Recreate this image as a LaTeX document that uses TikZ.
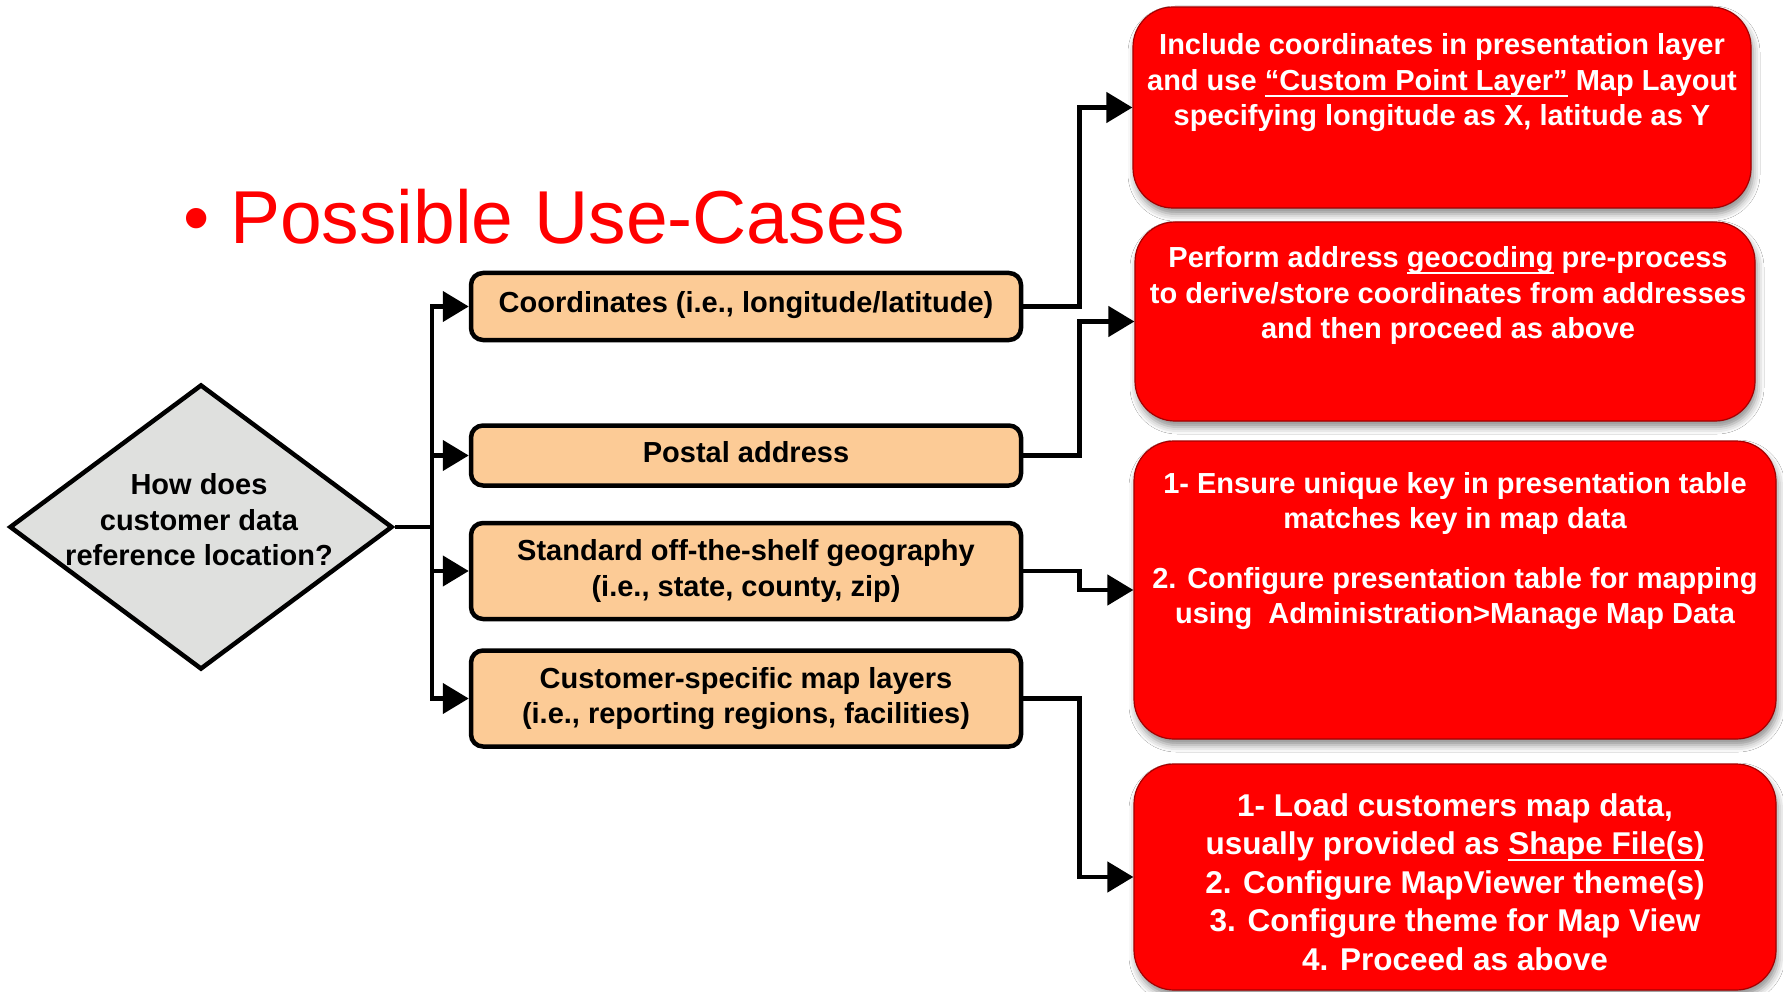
\documentclass[tikz,border=0pt]{standalone}
\usepackage{fontspec}
\setmainfont{Liberation Sans}
\usetikzlibrary{arrows.meta,shapes.geometric,shadows.blur}

% thick underline for emphasised terms
\newcommand{\ulined}[1]{\leavevmode\setbox0\hbox{#1}\rlap{\rule[-6.5pt]{\wd0}{2.4pt}}\box0\relax}

\definecolor{peach}{RGB}{252,203,150}
\definecolor{alertred}{RGB}{255,0,0}
\definecolor{alertedge}{RGB}{165,0,0}
\definecolor{qgrey}{RGB}{223,224,222}

\tikzset{
  choice/.style={draw=black, line width=4.5pt, fill=peach, rounded corners=12pt,
    inner sep=0pt, minimum width=550pt, align=center,
    font=\bfseries\fontsize{29}{35.5}\selectfont},
  action/.style={draw=alertedge, line width=1.2pt, fill=alertred, rounded corners=40pt,
    inner sep=0pt,
    blur shadow={shadow xshift=2pt, shadow yshift=-6pt, shadow blur radius=7pt, shadow opacity=45}},
  decision/.style={diamond, draw=black, line width=4.5pt, fill=qgrey, inner sep=0pt},
  lbl/.style={font=\bfseries\fontsize{29}{35.5}\selectfont, align=center, inner sep=0pt},
  wlbl/.style={lbl, text=white},
  link/.style={line width=4.5pt},
  arr/.style={link, -{Triangle[length=26pt,width=30pt]}}
}

\begin{document}
\begin{tikzpicture}[x=1pt, y=-1pt]
\useasboundingbox (0,0) rectangle (1783,992);
\fill[white] (0,0) rectangle (1783,992);

% heading
\node[anchor=base west, inner sep=0pt, text=alertred,
      font=\fontsize{75}{80}\selectfont] (ttl) at (183,244) {• Possible Use-Cases};

% question
\node[decision, minimum width=383pt, minimum height=285pt] (q) at (201,527) {};
\node[lbl] (qt) at (199,520) {How does\\customer data\\reference location?};

% kinds of location data
\node[choice, minimum height=67pt, text depth=9pt] (o1) at (746,306.5) {Coordinates (i.e., longitude/latitude)};
\node[choice, minimum height=60pt, text depth=8pt] (o2) at (746,455.5) {Postal address};
\node[choice, minimum height=96pt] (o3) at (746,571) {Standard off-the-shelf geography\\(i.e., state, county, zip)};
\node[choice, minimum height=96pt] (o4) at (746,698.5) {Customer-specific map layers\\(i.e., reporting regions, facilities)};

% what to do for each
\node[action, minimum width=618pt, minimum height=201pt] (r1) at (1442,107.5) {};
\node[action, minimum width=620pt, minimum height=199pt] (r2) at (1445,321.5) {};
\node[action, minimum width=642pt, minimum height=298pt] (r3) at (1455,590) {};
\node[action, minimum width=642pt, minimum height=226pt] (r4) at (1455,877) {};

\node[wlbl] (t1) at (1442,83) {Include coordinates in presentation layer\\
  and use \ulined{“Custom Point Layer”} Map Layout\\
  specifying longitude as X, latitude as Y};
\node[wlbl] (t2) at (1448,296) {Perform address \ulined{geocoding} pre-process\\
  to derive/store coordinates from addresses\\
  and then proceed as above};
\node[wlbl] (t3) at (1455,551) {1- Ensure unique key in presentation table\\
  matches key in map data\\[24pt]
  2. Configure presentation table for mapping\\
  using\ \ Administration>Manage Map Data};
\node[wlbl, font=\bfseries\fontsize{31.5}{38.5}\selectfont] (t4) at (1455,882) {1- Load customers map data,\\
  usually provided as \ulined{Shape File(s)}\\
  2. Configure MapViewer theme(s)\\
  3. Configure theme for Map View\\
  4. Proceed as above};

% branching from the question
\coordinate (tk) at (432,527);
\draw[link] (q.east) -- (tk);
\draw[arr] (tk) |- (o1.west);
\draw[arr] (tk) |- (o2.west);
\draw[arr] (tk) |- (o3.west);
\draw[arr] (tk) |- (o4.west);

% links to the actions
\draw[arr] (o1.east) -- ++(56,0) |- (r1.west);
\draw[arr] (o2.east) -- ++(56,0) |- (r2.west);
\draw[arr] (o3.east) -- ++(56,0) |- (r3.west);
\draw[arr] (o4.east) -- ++(56,0) |- (r4.west);
\end{tikzpicture}
\end{document}
